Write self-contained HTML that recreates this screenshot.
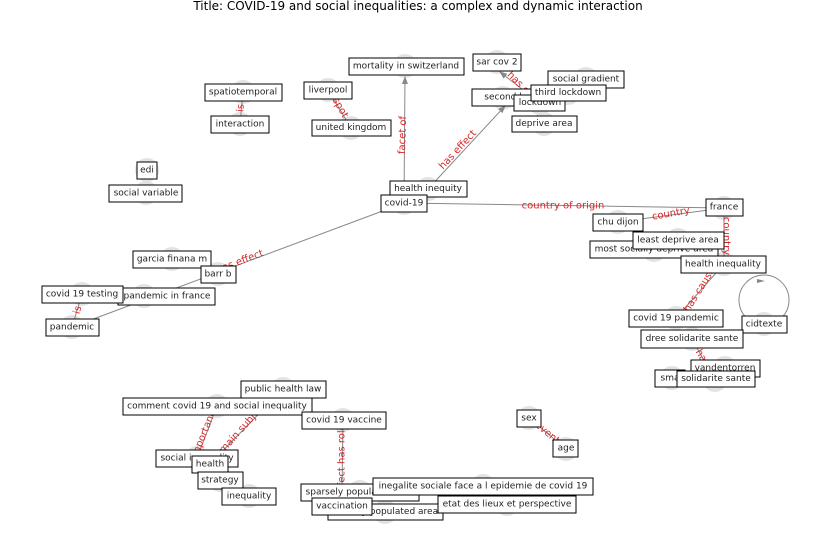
<!DOCTYPE html>
<html><head><meta charset="utf-8"><style>
html,body{margin:0;padding:0;background:#fff;width:837px;height:559px;overflow:hidden}
svg{font-family:"DejaVu Sans","Liberation Sans",sans-serif}
.n{fill:#fff;stroke:#000;stroke-width:1}
.t{font-size:9px;fill:#222;text-anchor:middle;dominant-baseline:central}
.c{fill:#ddd;opacity:.8}
.e{stroke:#888;stroke-width:1;fill:none}
.l{font-size:10px;fill:#d62728;text-anchor:middle;dominant-baseline:central}
</style></head><body>
<svg width="837" height="559" viewBox="0 0 837 559">
<defs><marker id="a" markerWidth="8" markerHeight="6" refX="7" refY="3" orient="auto"><path d="M0,0L8,3L0,6z" fill="#888"/></marker></defs>
<text x="418" y="6" font-size="12" text-anchor="middle" dominant-baseline="central" fill="#000">Title: COVID-19 and social inequalities: a complex and dynamic interaction</text>
<g class="c">
<circle cx="405" cy="66" r="12"/><circle cx="497" cy="62" r="12"/><circle cx="586" cy="79" r="12"/><circle cx="568" cy="93" r="12"/><circle cx="503" cy="98" r="12"/><circle cx="540" cy="103" r="12"/><circle cx="544" cy="124" r="12"/>
<circle cx="243" cy="92" r="12"/><circle cx="240" cy="124" r="12"/><circle cx="328" cy="90" r="12"/><circle cx="351" cy="128" r="12"/><circle cx="147" cy="170" r="12"/><circle cx="146" cy="193" r="12"/>
<circle cx="428" cy="189" r="12"/><circle cx="404" cy="203" r="12"/><circle cx="618" cy="222" r="12"/><circle cx="724" cy="208" r="12"/><circle cx="678" cy="240" r="12"/><circle cx="654" cy="250" r="12"/><circle cx="724" cy="264" r="12"/>
<circle cx="172" cy="259" r="12"/><circle cx="218" cy="274" r="12"/><circle cx="82" cy="294" r="12"/><circle cx="144" cy="296" r="12"/><circle cx="72" cy="327" r="12"/>
<circle cx="676" cy="318" r="12"/><circle cx="764" cy="324" r="12"/><circle cx="692" cy="339" r="12"/><circle cx="725" cy="368" r="12"/><circle cx="672" cy="378" r="12"/><circle cx="715" cy="380" r="12"/>
<circle cx="283" cy="389" r="12"/><circle cx="217" cy="406" r="12"/><circle cx="343" cy="420" r="12"/><circle cx="529" cy="418" r="12"/><circle cx="566" cy="449" r="12"/>
<circle cx="197" cy="458" r="12"/><circle cx="210" cy="464" r="12"/><circle cx="220" cy="480" r="12"/><circle cx="249" cy="496" r="12"/>
<circle cx="360" cy="492" r="12"/><circle cx="483" cy="486" r="12"/><circle cx="342" cy="506" r="12"/><circle cx="385" cy="512" r="12"/><circle cx="507" cy="504" r="12"/>
</g>
<g class="e">
<line x1="404" y1="203" x2="405" y2="77" marker-end="url(#a)"/>
<line x1="428" y1="189" x2="505" y2="106" marker-end="url(#a)"/>
<line x1="404" y1="203" x2="724" y2="208"/>
<line x1="618" y1="222" x2="724" y2="208"/>
<line x1="404" y1="203" x2="72" y2="327"/>
<line x1="724" y1="208" x2="724" y2="264"/>
<line x1="724" y1="264" x2="676" y2="318"/>
<line x1="692" y1="339" x2="715" y2="380"/>
<line x1="328" y1="90" x2="351" y2="128"/>
<line x1="243" y1="92" x2="240" y2="124"/>
<line x1="82" y1="294" x2="72" y2="327"/>
<line x1="540" y1="103" x2="500" y2="72" marker-end="url(#a)"/>
<line x1="217" y1="406" x2="197" y2="458"/>
<line x1="283" y1="389" x2="210" y2="464"/>
<line x1="343" y1="420" x2="342" y2="492"/>
<line x1="529" y1="418" x2="566" y2="449"/>
<circle cx="764" cy="300" r="25"/>
</g>
<path d="M757,279 L765,281 L757,283z" fill="#888"/>
<g class="l">
<text transform="translate(403,135) rotate(-88)">facet of</text>
<text transform="translate(458,150) rotate(-47)">has effect</text>
<text x="563" y="206">country of origin</text>
<text transform="translate(671,214) rotate(-10)">country</text>
<text transform="translate(240,262) rotate(-21)">has effect</text>
<text transform="translate(726,236) rotate(90)">country</text>
<text transform="translate(700,290) rotate(-58)">has cause</text>
<text transform="translate(702,358) rotate(60)">has</text>
<text transform="translate(340,108) rotate(60)">spot</text>
<text transform="translate(241,108) rotate(-85)">is</text>
<text transform="translate(78,310) rotate(-75)">is</text>
<text transform="translate(520,85) rotate(45)">has ca</text>
<text transform="translate(205,432) rotate(-68)">importance</text>
<text transform="translate(243,428) rotate(-48)">main subject</text>
<text transform="translate(342,460) rotate(-90)">effect has role</text>
<text transform="translate(547,433) rotate(40)">event</text>
</g>
<g>
<rect class="n" x="349" y="58" width="115" height="17"/><text class="t" x="406" y="66.5">mortality in switzerland</text>
<rect class="n" x="473" y="54" width="48" height="17"/><text class="t" x="497" y="62.5">sar cov 2</text>
<rect class="n" x="472" y="89" width="63" height="17"/><text class="t" x="503" y="97.5">second l</text>
<rect class="n" x="548" y="71" width="76" height="17"/><text class="t" x="586" y="79.5">social gradient</text>
<rect class="n" x="514" y="95" width="51" height="16"/><text class="t" x="540" y="103">lockdown</text>
<rect class="n" x="531" y="85" width="75" height="16"/><text class="t" x="568" y="93">third lockdown</text>
<rect class="n" x="512" y="116" width="65" height="16"/><text class="t" x="544" y="124">deprive area</text>
<rect class="n" x="205" y="84" width="77" height="17"/><text class="t" x="243" y="92.5">spatiotemporal</text>
<rect class="n" x="211" y="116" width="58" height="17"/><text class="t" x="240" y="124.5">interaction</text>
<rect class="n" x="304" y="82" width="48" height="17"/><text class="t" x="328" y="90.5">liverpool</text>
<rect class="n" x="312" y="120" width="79" height="16"/><text class="t" x="351" y="128">united kingdom</text>
<rect class="n" x="137" y="162" width="20" height="17"/><text class="t" x="147" y="170.5">edi</text>
<rect class="n" x="109" y="185" width="73" height="17"/><text class="t" x="146" y="193.5">social variable</text>
<rect class="n" x="390" y="181" width="77" height="16"/><text class="t" x="428" y="189">health inequity</text>
<rect class="n" x="381" y="195" width="46" height="17"/><text class="t" x="404" y="203.5">covid-19</text>
<rect class="n" x="593" y="214" width="50" height="17"/><text class="t" x="618" y="222.5">chu dijon</text>
<rect class="n" x="706" y="199" width="37" height="17"/><text class="t" x="724" y="207.5">france</text>
<rect class="n" x="590" y="241" width="128" height="17"/><text class="t" x="654" y="249.5">most socially deprive area</text>
<rect class="n" x="633" y="232" width="91" height="17"/><text class="t" x="678" y="240.5">least deprive area</text>
<rect class="n" x="681" y="256" width="85" height="17"/><text class="t" x="723" y="264.5">health inequality</text>
<rect class="n" x="133" y="251" width="78" height="17"/><text class="t" x="172" y="259.5">garcia finana m</text>
<rect class="n" x="201" y="266" width="35" height="17"/><text class="t" x="218" y="274.5">barr b</text>
<rect class="n" x="118" y="288" width="97" height="17"/><text class="t" x="167" y="296.5">pandemic in france</text>
<rect class="n" x="42" y="286" width="81" height="17"/><text class="t" x="82" y="294.5">covid 19 testing</text>
<rect class="n" x="46" y="319" width="53" height="17"/><text class="t" x="72" y="327.5">pandemic</text>
<rect class="n" x="629" y="310" width="94" height="17"/><text class="t" x="676" y="318.5">covid 19 pandemic</text>
<rect class="n" x="742" y="316" width="45" height="17"/><text class="t" x="764" y="324.5">cidtexte</text>
<rect class="n" x="641" y="330" width="102" height="18"/><text class="t" x="692" y="339">dree solidarite sante</text>
<rect class="n" x="691" y="360" width="69" height="17"/><text class="t" x="725" y="368.5">vandentorren</text>
<rect class="n" x="655" y="370" width="30" height="17"/><text class="t" x="670" y="378.5">sma</text>
<rect class="n" x="677" y="371" width="78" height="16"/><text class="t" x="716" y="379">solidarite sante</text>
<rect class="n" x="241" y="381" width="85" height="17"/><text class="t" x="283" y="389.5">public health law</text>
<rect class="n" x="123" y="398" width="189" height="17"/><text class="t" x="217" y="406.5">comment covid 19 and social inequality</text>
<rect class="n" x="302" y="412" width="84" height="17"/><text class="t" x="344" y="420.5">covid 19 vaccine</text>
<rect class="n" x="517" y="410" width="24" height="17"/><text class="t" x="529" y="418.5">sex</text>
<rect class="n" x="553" y="440" width="25" height="17"/><text class="t" x="566" y="448.5">age</text>
<rect class="n" x="156" y="450" width="82" height="17"/><text class="t" x="197" y="458.5">social inequality</text>
<rect class="n" x="192" y="456" width="36" height="17"/><text class="t" x="210" y="464.5">health</text>
<rect class="n" x="198" y="472" width="45" height="17"/><text class="t" x="220" y="480.5">strategy</text>
<rect class="n" x="222" y="488" width="54" height="17"/><text class="t" x="249" y="496.5">inequality</text>
<rect class="n" x="301" y="484" width="118" height="17"/><text class="t" x="360" y="492.5">sparsely populated area</text>
<rect class="n" x="328" y="504" width="115" height="16"/><text class="t" x="385" y="512">densely populated area</text>
<rect class="n" x="312" y="498" width="60" height="17"/><text class="t" x="342" y="506.5">vaccination</text>
<rect class="n" x="373" y="478" width="220" height="17"/><text class="t" x="483" y="486.5">inegalite sociale face a l epidemie de covid 19</text>
<rect class="n" x="438" y="496" width="138" height="17"/><text class="t" x="507" y="504.5">etat des lieux et perspective</text>
</g>
</svg>
</body></html>
